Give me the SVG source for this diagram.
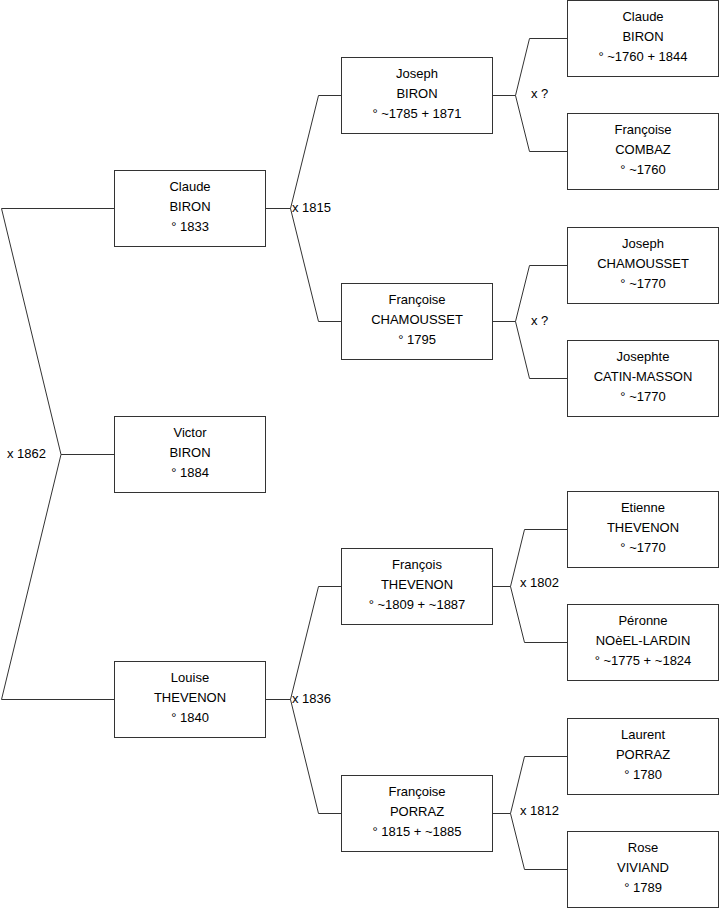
<svg xmlns="http://www.w3.org/2000/svg" width="719" height="908" viewBox="0 0 719 908">
<style>
.box{fill:#fff;stroke:#333;stroke-width:1}
.t{font-family:"Liberation Sans",Arial,sans-serif;font-size:13px;fill:#000;text-anchor:middle}
.l{font-family:"Liberation Sans",Arial,sans-serif;font-size:13px;fill:#000}
.c{fill:none;stroke:#333;stroke-width:1}
</style>
<rect width="719" height="908" fill="#fff"/>
<g id="connectors">
<path class="c" d="M114,208.5 H1.5 L61,454.5 L1.5,699.5 H114 M61,454.5 H114"/>
<path class="c" d="M265,208.5 H290.5 L318.5,95.5 H341 M290.5,208.5 L318.5,321.5 H341"/>
<path class="c" d="M265,699.5 H290.5 L318.5,586.5 H341 M290.5,699.5 L318.5,813.5 H341"/>
<path class="c" d="M492,95.5 H515.5 L529.5,38.5 H567 M515.5,95.5 L529.5,151.5 H567"/>
<path class="c" d="M492,321.5 H515.5 L529.5,265.5 H567 M515.5,321.5 L529.5,378.5 H567"/>
<path class="c" d="M492,586.5 H510.5 L524.5,529.5 H567 M510.5,586.5 L524.5,642.5 H567"/>
<path class="c" d="M492,813.5 H510.5 L524.5,756.5 H567 M510.5,813.5 L524.5,869.5 H567"/>
<text class="l" x="7" y="458">x 1862</text>
<text class="l" x="292" y="212">x 1815</text>
<text class="l" x="292" y="703">x 1836</text>
<text class="l" x="531" y="98">x ?</text>
<text class="l" x="531" y="325">x ?</text>
<text class="l" x="520" y="587">x 1802</text>
<text class="l" x="520" y="815">x 1812</text>
</g>
<g id="claude-biron-1833">
<rect class="box" x="114.5" y="170.5" width="151" height="76"/>
<text class="t" x="190" y="191">Claude</text><text class="t" x="190" y="211">BIRON</text><text class="t" x="190" y="231">° 1833</text>
</g>
<g id="victor-biron">
<rect class="box" x="114.5" y="416.5" width="151" height="76"/>
<text class="t" x="190" y="437">Victor</text><text class="t" x="190" y="457">BIRON</text><text class="t" x="190" y="477">° 1884</text>
</g>
<g id="louise-thevenon">
<rect class="box" x="114.5" y="661.5" width="151" height="76"/>
<text class="t" x="190" y="682">Louise</text><text class="t" x="190" y="702">THEVENON</text><text class="t" x="190" y="722">° 1840</text>
</g>
<g id="joseph-biron">
<rect class="box" x="341.5" y="57.5" width="151" height="76"/>
<text class="t" x="417" y="78">Joseph</text><text class="t" x="417" y="98">BIRON</text><text class="t" x="417" y="118">° ~1785 + 1871</text>
</g>
<g id="francoise-chamousset">
<rect class="box" x="341.5" y="283.5" width="151" height="76"/>
<text class="t" x="417" y="304">Françoise</text><text class="t" x="417" y="324">CHAMOUSSET</text><text class="t" x="417" y="344">° 1795</text>
</g>
<g id="francois-thevenon">
<rect class="box" x="341.5" y="548.5" width="151" height="76"/>
<text class="t" x="417" y="569">François</text><text class="t" x="417" y="589">THEVENON</text><text class="t" x="417" y="609">° ~1809 + ~1887</text>
</g>
<g id="francoise-porraz">
<rect class="box" x="341.5" y="775.5" width="151" height="76"/>
<text class="t" x="417" y="796">Françoise</text><text class="t" x="417" y="816">PORRAZ</text><text class="t" x="417" y="836">° 1815 + ~1885</text>
</g>
<g id="claude-biron-1760">
<rect class="box" x="567.5" y="0.5" width="151" height="76"/>
<text class="t" x="643" y="21">Claude</text><text class="t" x="643" y="41">BIRON</text><text class="t" x="643" y="61">° ~1760 + 1844</text>
</g>
<g id="francoise-combaz">
<rect class="box" x="567.5" y="113.5" width="151" height="76"/>
<text class="t" x="643" y="134">Françoise</text><text class="t" x="643" y="154">COMBAZ</text><text class="t" x="643" y="174">° ~1760</text>
</g>
<g id="joseph-chamousset">
<rect class="box" x="567.5" y="227.5" width="151" height="76"/>
<text class="t" x="643" y="248">Joseph</text><text class="t" x="643" y="268">CHAMOUSSET</text><text class="t" x="643" y="288">° ~1770</text>
</g>
<g id="josephte-catin-masson">
<rect class="box" x="567.5" y="340.5" width="151" height="76"/>
<text class="t" x="643" y="361">Josephte</text><text class="t" x="643" y="381">CATIN-MASSON</text><text class="t" x="643" y="401">° ~1770</text>
</g>
<g id="etienne-thevenon">
<rect class="box" x="567.5" y="491.5" width="151" height="76"/>
<text class="t" x="643" y="512">Etienne</text><text class="t" x="643" y="532">THEVENON</text><text class="t" x="643" y="552">° ~1770</text>
</g>
<g id="peronne-noel-lardin">
<rect class="box" x="567.5" y="604.5" width="151" height="76"/>
<text class="t" x="643" y="625">Péronne</text><text class="t" x="643" y="645">NOèEL-LARDIN</text><text class="t" x="643" y="665">° ~1775 + ~1824</text>
</g>
<g id="laurent-porraz">
<rect class="box" x="567.5" y="718.5" width="151" height="76"/>
<text class="t" x="643" y="739">Laurent</text><text class="t" x="643" y="759">PORRAZ</text><text class="t" x="643" y="779">° 1780</text>
</g>
<g id="rose-viviand">
<rect class="box" x="567.5" y="831.5" width="151" height="76"/>
<text class="t" x="643" y="852">Rose</text><text class="t" x="643" y="872">VIVIAND</text><text class="t" x="643" y="892">° 1789</text>
</g>
</svg>
